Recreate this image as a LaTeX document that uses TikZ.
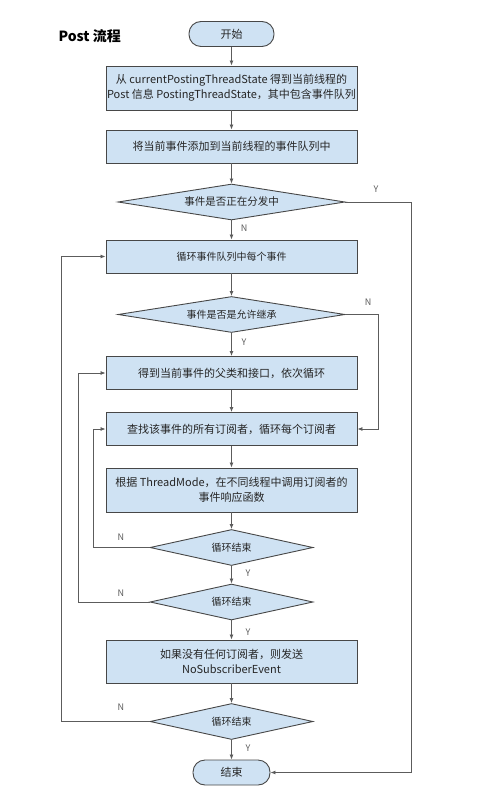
\documentclass[tikz,border=0pt]{standalone}
\usepackage{fontspec}
\setmainfont{Noto Sans CJK SC}
\usetikzlibrary{shapes.geometric,arrows.meta}
\definecolor{boxfill}{HTML}{CFE2F3}
\definecolor{boxline}{HTML}{474747}
\definecolor{linegray}{HTML}{5C5C5C}

\begin{document}
\begin{tikzpicture}[x=1pt,y=-1pt,
        box/.style={draw=boxline,fill=boxfill,line width=0.9pt,minimum width=251pt,
            minimum height=33pt,inner sep=0pt,align=center,text=black!85,
            font=\fontsize{11}{15}\selectfont},
        decision/.style={diamond,draw=boxline,fill=boxfill,line width=0.9pt,aspect=6,
            inner sep=0pt,minimum height=36pt,text=black!85,font=\fontsize{10.5}{12}\selectfont},
        terminal/.style={rectangle,rounded corners=12pt,draw=boxline,fill=boxfill,
            line width=0.9pt,minimum height=25pt,text=black!85,font=\fontsize{11}{12}\selectfont},
        line/.style={draw=linegray,line width=0.8pt,-{Latex[length=5pt,width=4pt]}},
        yn/.style={text=linegray,font=\fontsize{9}{9}\selectfont}]
        \useasboundingbox (0,0) rectangle (500,802);

        % 标题
        \node[anchor=west,font=\fontsize{14}{14}\selectfont\bfseries] (title) at (55,36) {Post 流程};

        % 主干节点
        \node[terminal,minimum width=85pt] (start) at (231.5,34) {开始};
        \node[box,minimum height=44pt] (b1) at (231.5,88)
            {从 currentPostingThreadState 得到当前线程的\\Post 信息 PostingThreadState，其中包含事件队列};
        \node[box] (b2) at (231.5,146.5) {将当前事件添加到当前线程的事件队列中};
        \node[decision,minimum width=227pt] (d1) at (231.5,202) {事件是否正在分发中};
        \node[box,font=\fontsize{10}{12}\selectfont] (b3) at (231.5,256.5) {循环事件队列中每个事件};
        \node[decision,minimum width=227pt,font=\fontsize{10}{12}\selectfont] (d2) at (231.5,314.5) {事件是否是允许继承};
        \node[box] (b4) at (231.5,373) {得到当前事件的父类和接口，依次循环};
        \node[box] (b5) at (231.5,429) {查找该事件的所有订阅者，循环每个订阅者};
        \node[box,minimum height=44pt] (b6) at (231.5,490)
            {根据 ThreadMode，在不同线程中调用订阅者的\\事件响应函数};
        \node[decision,minimum width=163pt,font=\fontsize{10}{12}\selectfont] (d3) at (231.5,547.5) {循环结束};
        \node[decision,minimum width=163pt,font=\fontsize{10}{12}\selectfont] (d4) at (231.5,602) {循环结束};
        \node[box,minimum height=43pt] (b7) at (231.5,661.5)
            {如果没有任何订阅者，则发送\\NoSubscriberEvent};
        \node[decision,minimum width=163pt,font=\fontsize{10}{12}\selectfont] (d5) at (231.5,721.5) {循环结束};
        \node[terminal,minimum width=77pt] (end) at (231.5,772.5) {结束};

        % 直线连接
        \foreach \a/\b in {start/b1,b1/b2,b2/d1,d1/b3,b3/d2,d2/b4,b4/b5,b5/b6,b6/d3,d3/d4,d4/b7,b7/d5,d5/end}
            {
                \draw[line] (\a) -- (\b);
            }

        % 分支与回环
        \draw[line] (d1.east) -- (411,202) |- (end.east);
        \draw[line] (d2.east) -- (378,314.5) |- (b5.east);
        \draw[line] (d3.west) -- (93,547.5) |- (b5.west);
        \draw[line] (d4.west) -- (78,602) |- (b4.west);
        \draw[line] (d5.west) -- (61,721.5) |- (b3.west);

        % 标记 Y, N
        \node[yn] (y1) at (376,189) {Y};
        \node[yn] (n1) at (244,228) {N};
        \node[yn] (n2) at (368,302) {N};
        \node[yn] (y2) at (244,342) {Y};
        \node[yn] (n3) at (121,537) {N};
        \node[yn] (y3) at (248,573) {Y};
        \node[yn] (n4) at (121,593) {N};
        \node[yn] (y4) at (248,632) {Y};
        \node[yn] (n5) at (121,707) {N};
        \node[yn] (y5) at (248,748) {Y};

    \end{tikzpicture}
\end{document}
